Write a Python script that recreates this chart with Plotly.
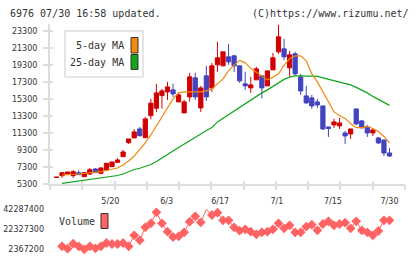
import plotly.graph_objects as go

# ---------------- data ----------------
day = list(range(61))
open_ = [6080, 6277, 6476, 6277, 6630, 6159, 6476, 7065, 6559, 6947,
         7335, 7853, 8512, 10159, 10712, 11771, 10747, 13335, 14206, 15688,
         16124, 16359, 14947, 13653, 15535, 17771, 14241, 18006, 16594, 19300,
         19182, 20241, 20359, 19182, 17065, 16594, 17535, 18006, 16829, 18712,
         20829, 21182, 18947, 20594, 17888, 15653, 15418, 14947, 14477, 12006,
         12241, 12124, 11300, 11182, 14124, 12712, 12006, 11300, 10712, 10477,
         8947]
high = [6100, 6630, 6712, 6912, 6912, 6630, 7182, 7182, 7265, 7735,
        7888, 8324, 9300, 10594, 11735, 12006, 13182, 15300, 17065, 16476,
        17300, 17065, 16006, 15182, 18359, 18359, 16829, 19182, 19535, 22006,
        20829, 21771, 20477, 19182, 18477, 17888, 19065, 18006, 18594, 20712,
        24006, 22359, 20947, 20829, 18241, 16829, 15770, 15300, 14477, 12006,
        12947, 13065, 11535, 11771, 14124, 12830, 12241, 11771, 10830, 10477,
        9535]
low = [6080, 6041, 6476, 6041, 6394, 6159, 6359, 6630, 6441, 6947,
       7335, 7735, 8512, 10006, 10712, 10865, 10747, 12912, 13771, 14159,
       15182, 15535, 14947, 13653, 14982, 15182, 13771, 15065, 16124, 18477,
       19182, 19300, 18477, 17182, 16359, 16006, 17535, 15359, 16829, 18712,
       20594, 19888, 17888, 18006, 15770, 14712, 14124, 14241, 11653, 10830,
       11888, 11771, 10006, 10594, 12241, 11888, 10830, 10947, 10006, 8594,
       8477]
close = [6100, 6630, 6712, 6747, 6394, 6630, 6982, 6630, 7182, 7735,
         7888, 8124, 9065, 10594, 11418, 10982, 12947, 14794, 16006, 16241,
         16712, 15888, 15770, 14947, 17888, 15535, 16594, 15535, 19182, 20124,
         20829, 19653, 19182, 17418, 16829, 16947, 18830, 16594, 18594, 20124,
         22594, 20241, 20477, 18241, 16241, 14829, 14477, 14594, 11771, 11830,
         12594, 12477, 10947, 11771, 12359, 11888, 11300, 11653, 10124, 8947,
         8594]

ma_day = day[1:]
ma5 = [6359, 6359, 6418, 6476, 6535, 6594, 6653, 6747, 6888, 7065,
       7182, 7535, 8006, 8594, 9300, 10124, 11065, 12124, 13182, 14241,
       15300, 16006, 16124, 16124, 16124, 16124, 16241, 16476, 17065, 17653,
       18594, 19300, 19830, 19535, 18888, 18418, 17947, 17535, 17830, 18241,
       19241, 20006, 20359, 20359, 19771, 18241, 17300, 16124, 14829, 13771,
       13359, 13006, 12418, 11924, 11924, 12065, 11830, 11477, 10888, 10124]
ma25 = [5382, 5476, 5535, 5653, 5771, 5853, 5947, 6041, 6124, 6182,
        6300, 6476, 6712, 7006, 7147, 7359, 7594, 7947, 8394, 8830,
        9182, 9594, 9971, 10359, 10712, 11182, 11594, 11947, 12594, 13018,
        13465, 13900, 14359, 14771, 15182, 15653, 16006, 16359, 16771, 17241,
        17594, 17853, 18006, 18006, 18006, 18006, 17947, 17771, 17594, 17418,
        17300, 17124, 16947, 16653, 16359, 16006, 15594, 15241, 14888, 14535]
volume = [5360000, 2970000, 7960000, 5360000, 2370000, 5360000, 3370000, 5360000, 8650000, 7660000,
          7660000, 8650000, 5360000, 16340000, 11350000, 24320000, 28310000, 39290000, 28310000, 19930000,
          14640000, 15340000, 19330000, 29910000, 35300000, 29310000, 42290000, 36600000, 38900000, 31310000,
          31310000, 24320000, 20930000, 22330000, 19930000, 17340000, 19330000, 19930000, 22330000, 28310000,
          23330000, 26320000, 19330000, 19330000, 24920000, 26920000, 21330000, 27620000, 30310000, 26320000,
          27620000, 28910000, 23330000, 30310000, 21330000, 19330000, 16340000, 20630000, 31310000, 31310000]

date_labels = ["5/20", "6/3", "6/17", "7/1", "7/15", "7/30"]
date_pos = [9.7, 19.85, 29.5, 39.7, 49.8, 60.0]
price_ticks = [5300, 7300, 9300, 11300, 13300, 15300, 17300, 19300, 21300, 23300]
vol_ticks = [2367200, 22327300, 42287400]

# ---------------- style ----------------
W, H = 420, 259
RED = "#d10000"
BLUE = "#4343c0"
ORANGE = "#f08a10"
GREEN = "#12a51c"
VOLC = "#ff6262"
AX = "#dddddd"
TXT = "#333333"
MONO = "DejaVu Sans Mono"
SANS = "DejaVu Sans"

def px(x):
    return x / W

def py(y):
    return 1 - y / H

X0, X1 = 50, 405
unit = 5.55
r0 = -(56.5 - X0) / unit
r1 = r0 + (X1 - X0) / unit
xr = [r0, r1]

fig = go.Figure()
fig.add_trace(go.Candlestick(
    x=day, open=open_, high=high, low=low, close=close,
    increasing=dict(line=dict(color=RED, width=1), fillcolor=RED),
    decreasing=dict(line=dict(color=BLUE, width=1), fillcolor=BLUE),
    whiskerwidth=0, showlegend=False, hoverinfo="skip", xaxis="x", yaxis="y"))
fig.add_trace(go.Scatter(x=ma_day, y=ma25, mode="lines", line=dict(color=GREEN, width=1.2),
                         showlegend=False, hoverinfo="skip", xaxis="x", yaxis="y"))
fig.add_trace(go.Scatter(x=ma_day, y=ma5, mode="lines", line=dict(color=ORANGE, width=1.2),
                         showlegend=False, hoverinfo="skip", xaxis="x", yaxis="y"))
fig.add_trace(go.Scatter(x=ma_day, y=volume, mode="lines+markers",
                         line=dict(color=VOLC, width=1),
                         marker=dict(symbol="diamond", size=7.5, color=VOLC, line=dict(width=0)),
                         cliponaxis=False, showlegend=False, hoverinfo="skip",
                         xaxis="x2", yaxis="y2"))
# helper traces so the overlay tick axes are drawn
for xa, ya in [("x3", "y"), ("x4", "y"), ("x", "y3")]:
    fig.add_trace(go.Scatter(x=[None], y=[None], xaxis=xa, yaxis=ya, showlegend=False, hoverinfo="skip"))

xdom = [px(X0), px(X1)]
main_dom = [py(184), py(24)]
vol_dom = [py(249.3), py(209.3)]

fig.update_layout(
    template="none",
    width=W, height=H, margin=dict(l=0, r=0, t=0, b=0, pad=0), autosize=False,
    paper_bgcolor="white", plot_bgcolor="white", showlegend=False,
    boxgap=0.05, boxgroupgap=0.2,
    xaxis=dict(domain=xdom, range=xr, anchor="y", rangeslider=dict(visible=False), automargin=False,
               showgrid=False, zeroline=False, showline=True, linecolor=AX, linewidth=2,
               tickmode="array", tickvals=date_pos, ticktext=date_labels,
               ticks="outside", ticklen=8, tickcolor="rgba(0,0,0,0)",
               tickfont=dict(family=SANS, size=8, color=TXT)),
    xaxis3=dict(domain=xdom, range=xr, anchor="y", overlaying="x", showgrid=False, zeroline=False,
                showline=False, showticklabels=False, tickmode="linear", tick0=r0, automargin=False,
                dtick=(r1 - r0) / 11, ticks="outside", ticklen=5, tickwidth=1.5, tickcolor=AX),
    xaxis4=dict(domain=xdom, range=xr, anchor="y", overlaying="x", showgrid=False, zeroline=False,
                showline=False, showticklabels=False, tickmode="linear", tick0=r0, automargin=False,
                dtick=(r1 - r0) / 11, ticks="inside", ticklen=3, tickwidth=1.5, tickcolor=AX),
    yaxis=dict(domain=main_dom, range=[5300, 24100], anchor="x", showgrid=False, zeroline=False,
               showline=True, linecolor=AX, linewidth=2, automargin=False,
               tickmode="array", tickvals=price_ticks, ticktext=[str(v) for v in price_ticks],
               ticks="outside", ticklen=5, tickwidth=1.5, tickcolor=AX, ticklabelstandoff=4,
               tickfont=dict(family=SANS, size=8, color=TXT)),
    yaxis3=dict(domain=main_dom, range=[5300, 24100], anchor="x", overlaying="y", showgrid=False,
                zeroline=False, showline=False, showticklabels=False, automargin=False,
                tickmode="array", tickvals=price_ticks, ticks="inside", ticklen=3, tickwidth=1.5,
                tickcolor=AX),
    xaxis2=dict(domain=xdom, range=xr, anchor="y2", showgrid=False, zeroline=False, automargin=False,
                showline=False, showticklabels=False, ticks=""),
    yaxis2=dict(domain=vol_dom, range=[vol_ticks[0], vol_ticks[-1]], anchor="x2", showgrid=False,
                zeroline=False, showline=False, tickmode="array", tickvals=vol_ticks, automargin=False,
                ticktext=[str(v) for v in vol_ticks], ticks="", ticklabelstandoff=5,
                tickfont=dict(family=SANS, size=8, color=TXT)),
)

shapes = [
    dict(type="rect", xref="paper", yref="paper", x0=px(65), x1=px(143), y0=py(77), y1=py(31),
         line=dict(color=AX, width=1.5), fillcolor="white", layer="below"),
    dict(type="rect", xref="paper", yref="paper", x0=px(131), x1=px(138), y0=py(53), y1=py(37.5),
         line=dict(color="#333333", width=1), fillcolor=ORANGE),
    dict(type="rect", xref="paper", yref="paper", x0=px(131), x1=px(138), y0=py(69.5), y1=py(54.5),
         line=dict(color="#333333", width=1), fillcolor=GREEN),
    dict(type="rect", xref="paper", yref="paper", x0=px(101), x1=px(108), y0=py(228.5), y1=py(213.5),
         line=dict(color="#333333", width=1), fillcolor=VOLC),
]
fig.update_layout(shapes=shapes)

ann = [
    dict(text="6976 07/30 16:58 updated.", x=px(8), y=py(13), xanchor="left", yanchor="middle"),
    dict(text="(C)https://www.rizumu.net/", x=px(411), y=py(13), xanchor="right", yanchor="middle"),
    dict(text="5-day MA", x=px(126), y=py(45.5), xanchor="right", yanchor="middle"),
    dict(text="25-day MA", x=px(126), y=py(62.5), xanchor="right", yanchor="middle"),
    dict(text="Volume", x=px(57), y=py(221.5), xanchor="left", yanchor="middle"),
]
for a in ann:
    a.update(xref="paper", yref="paper", showarrow=False,
             font=dict(family=MONO, size=10, color=TXT))
fig.update_layout(annotations=ann)

fig.write_html("out.html")
